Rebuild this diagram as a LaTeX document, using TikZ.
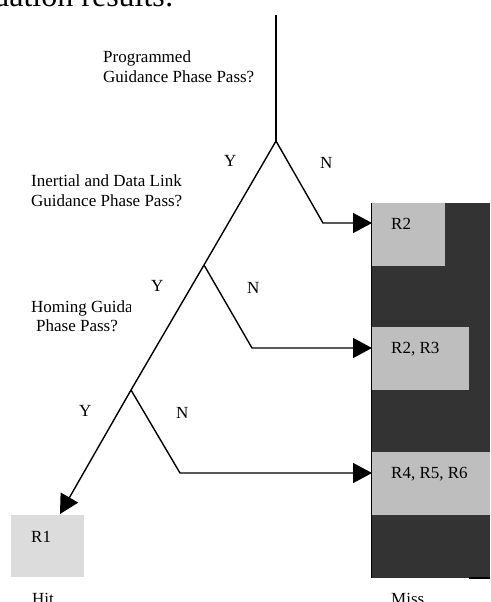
\documentclass[tikz,border=0pt]{standalone}
\usepackage{fontspec}
\setmainfont{Liberation Serif}
\usetikzlibrary{arrows.meta}
\definecolor{darkbox}{HTML}{333333}
\definecolor{midbox}{HTML}{BEBEBE}
\definecolor{lightbox}{HTML}{DCDCDC}
\tikzset{
  txt/.style={anchor=base west, inner sep=0pt, font=\fontsize{17}{20}\selectfont},
  branch/.style={line width=1.4pt, line join=miter},
  arr/.style={branch, -{Triangle[length=19pt,width=20pt]}},
  boxstyle/.style={anchor=north west, inner sep=0pt, outer sep=0pt, draw=none},
}
\begin{document}
\begin{tikzpicture}[x=1pt,y=-1pt]
\useasboundingbox (0,0) rectangle (490,602);
\clip (0,0) rectangle (490,602);
% cut heading text
\node[anchor=base east, inner sep=0pt, font=\fontsize{32}{36}\selectfont] (head) at (174,7) {evaluation results:};
% miss column
\node[boxstyle, fill=darkbox, minimum width=119pt, minimum height=375pt] (miss) at (371,203) {};
\node[boxstyle, fill=midbox, minimum width=73pt, minimum height=63pt] (b2) at (372,203) {};
\node[boxstyle, fill=midbox, minimum width=97pt, minimum height=63pt] (b23) at (372,327) {};
\node[boxstyle, fill=midbox, minimum width=118pt, minimum height=63pt] (b456) at (372,452) {};
\draw[line width=1pt] (miss.north west) -- (miss.south west);
\coordinate (mb) at (469,578);
\draw[line width=1.2pt] (mb) -- (miss.south east);
% hit box
\node[boxstyle, fill=lightbox, minimum width=73pt, minimum height=62pt] (b1) at (11,515) {};
% texts in boxes
\node[txt] (t2) at (391,229) {R2};
\node[txt] (t23) at (391,353) {R2, R3};
\node[txt] (t456) at (391,478) {R4, R5, R6};
\node[txt] (t1) at (31,542) {R1};
\node[txt] (hit) at (32,604.5) {Hit};
\node[txt] (misslbl) at (391,604.5) {Miss};
% questions
\node[txt] (q1a) at (103,62.5) {Programmed};
\node[txt] (q1b) at (103,82.5) {Guidance Phase Pass?};
\node[txt] (q2a) at (31,186.5) {Inertial and Data Link};
\node[txt] (q2b) at (31,206.5) {Guidance Phase Pass?};
\begin{scope}
\clip (0,290) rectangle (130,318);
\node[txt] (q3a) at (31,312) {Homing Guidance};
\end{scope}
\node[txt] (q3b) at (36,331) {Phase Pass?};
% Y / N labels
\node[txt] (y1) at (224,166.5) {Y};
\node[txt] (n1) at (320,168) {N};
\node[txt] (y2) at (151,291.5) {Y};
\node[txt] (n2) at (247,293) {N};
\node[txt] (y3) at (79,416.5) {Y};
\node[txt] (n3) at (176,418) {N};
% tree
\coordinate (top) at (276,15);
\coordinate (f1) at (276,141);
\coordinate (f2) at (204,265);
\coordinate (f3) at (131,390);
\coordinate (c1) at (323,223);
\coordinate (c2) at (252,348);
\coordinate (c3) at (180,473);
\coordinate (e1) at (372,223);
\coordinate (e2) at (372,348);
\coordinate (e3) at (372,473);
\coordinate (hitend) at (60,514);
\draw[line width=1.8pt] (top) -- (f1);
\draw[branch] (f1) -- (f2) -- (f3);
\draw[arr] (f3) -- (hitend);
\draw[arr] (f1) -- (c1) -- (e1);
\draw[arr] (f2) -- (c2) -- (e2);
\draw[arr] (f3) -- (c3) -- (e3);
\end{tikzpicture}
\end{document}
